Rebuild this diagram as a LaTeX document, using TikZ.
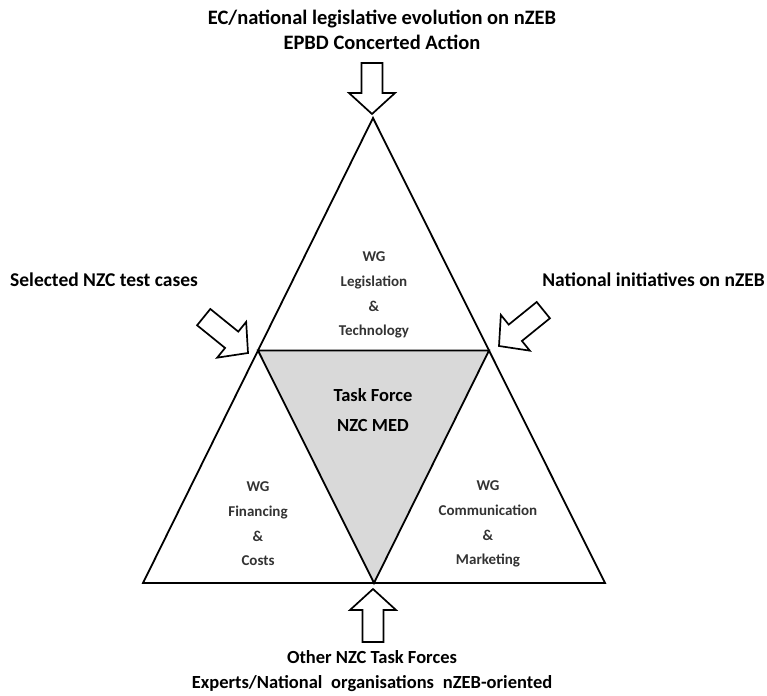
\documentclass[tikz,border=0pt]{standalone}
\usepackage{fontspec}
\setmainfont{Carlito}
\definecolor{inner}{HTML}{D9D9D9}
\definecolor{wgtext}{HTML}{333333}
\begin{document}
\begin{tikzpicture}[x=1pt,y=-1pt,
  edge/.style={line width=1.8pt,line join=miter},
  label/.style={font=\bfseries\fontsize{19.5}{25}\selectfont,align=center,inner sep=0pt},
  wg/.style={font=\bfseries\fontsize{15}{24.7}\selectfont,align=center,text=wgtext,inner sep=0pt},
  tf/.style={font=\bfseries\fontsize{18.5}{30}\selectfont,align=center,inner sep=0pt},
  pics/blockarr/.style={code={
    \filldraw[fill=white,line width=1.7pt,line join=miter]
      (0,0) -- (-21,23) -- (-21,10.5) -- (-#1,10.5) -- (-#1,-10.5) -- (-21,-10.5) -- (-21,-23) -- cycle;}}
]
\useasboundingbox (0,0) rectangle (767,695);
% vertices
\coordinate (A) at (373,118);
\coordinate (BL) at (143,583);
\coordinate (BR) at (605,583);
\coordinate (ML) at (258,350.5);
\coordinate (MR) at (489,350.5);
\coordinate (MB) at (374,583);
% triangles
\filldraw[edge,fill=inner] (ML) -- (MR) -- (MB) -- cycle;
\draw[edge] (A) -- (BL) -- (BR) -- cycle;
% arrow tips
\coordinate (tipT) at (372,114);
\coordinate (tipB) at (373,589);
\coordinate (tipL) at (248,353);
\coordinate (tipR) at (499,346);
\pic[rotate=-90] at (tipT) {blockarr=51};
\pic[rotate=90] at (tipB) {blockarr=53};
\pic[rotate=-39] at (tipL) {blockarr=57};
\pic[rotate=-141] at (tipR) {blockarr=57};
% labels
\node[label,font=\bfseries\fontsize{20.5}{25}\selectfont] (top) at (382,29.5) {EC/national legislative evolution on nZEB\\EPBD Concerted Action};
\node[label,font=\bfseries\fontsize{18.5}{25}\selectfont] (bot) at (372,671) {Other NZC Task Forces\\Experts/National\hspace{0.25em} organisations\hspace{0.25em} nZEB-oriented};
\node[label,anchor=west] (left) at (10,280) {Selected NZC test cases};
\node[label,anchor=east] (right) at (765,280) {National initiatives on nZEB};
% triangle texts
\node[wg] (wgT) at (374,295) {WG\\Legislation\\\&\\Technology};
\node[wg] (wgL) at (258,524) {WG\\Financing\\\&\\Costs};
\node[wg] (wgR) at (488,524) {WG\\Communication\\\&\\Marketing};
\node[tf] (tf) at (373,410) {Task Force\\NZC MED};
\end{tikzpicture}
\end{document}
